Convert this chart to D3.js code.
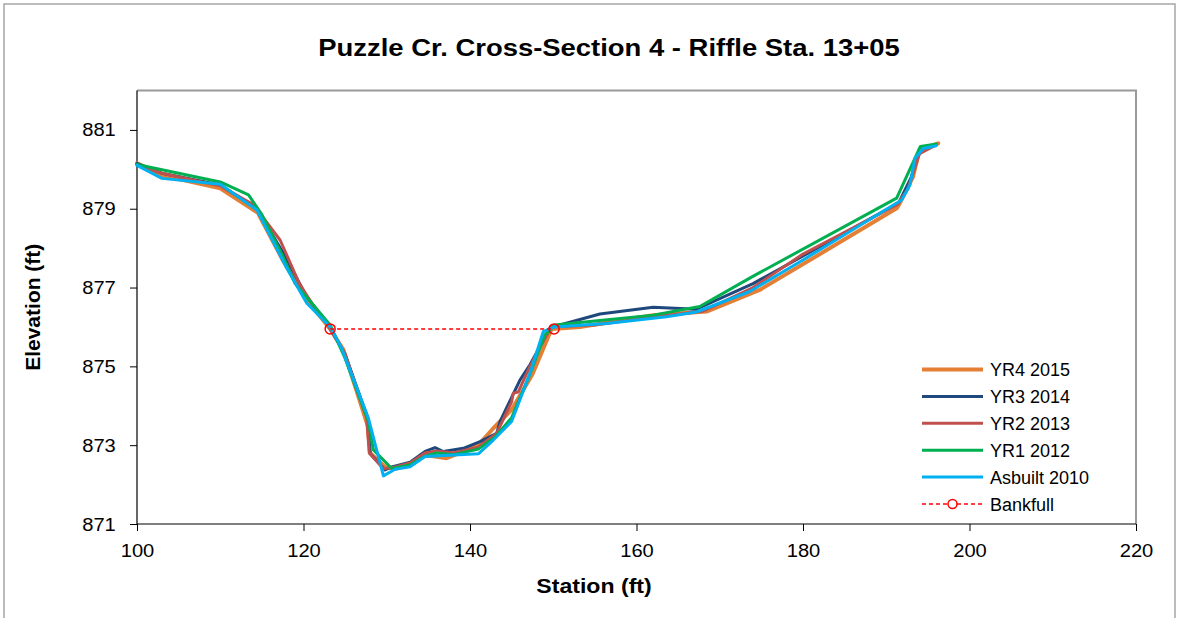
<!DOCTYPE html>
<html>
<head>
<meta charset="utf-8">
<script src="https://cdn.jsdelivr.net/npm/d3@7"></script>
<style>
html,body{margin:0;padding:0;background:#fff;}
svg{display:block;}
text{font-family:"Liberation Sans",Arial,sans-serif;fill:#000;}
</style>
</head>
<body>
<svg id="chart" width="1177" height="618"></svg>
<script>
// ---- data ----
const title = "Puzzle Cr. Cross-Section 4 - Riffle Sta. 13+05";
const xTicks = [100, 120, 140, 160, 180, 200, 220];
const yTicks = [871, 873, 875, 877, 879, 881];
const seriesNames = ["YR4 2015", "YR3 2014", "YR2 2013", "YR1 2012", "Asbuilt 2010", "Bankfull"];

const yr4_2015 = [[100,880.15],[103,879.85],[110,879.52],[114.5,878.9],[117.5,877.7],[120,876.8],[123.2,875.95],[124.8,875.42],[127.7,873.5],[128,872.8],[129.8,872.45],[131,872.4],[132.8,872.5],[134.6,872.75],[137.2,872.67],[141,873.0],[142.8,873.43],[145,873.9],[147.5,874.8],[149.8,875.95],[153.2,876.0],[162,876.3],[168.4,876.39],[174.8,876.94],[191.25,879.01],[191.6,879.13],[193.2,879.8],[194,880.5],[196.25,880.66]];
const yr3_2014 = [[100,880.15],[103,879.9],[110,879.6],[114.4,879.0],[117.5,877.9],[120.3,876.8],[123.1,876.0],[125,875.3],[127.7,873.7],[128,872.79],[129.8,872.37],[130.6,872.45],[132.8,872.57],[134.6,872.84],[135.8,872.94],[136.8,872.84],[139.2,872.92],[141.2,873.09],[143.2,873.3],[143.6,873.6],[146,874.65],[147.2,875.04],[149.7,876.0],[150.8,876.05],[155.6,876.33],[162,876.5],[167.2,876.45],[174,877.1],[180,877.8],[191.5,879.15],[193,879.8],[193.8,880.35],[194.6,880.55],[196,880.62]];
const yr2_2013 = [[100,880.12],[103,879.9],[110,879.58],[114,879.1],[117.2,878.2],[119.5,877.1],[121,876.6],[123.1,876.0],[125,875.3],[127.6,873.7],[127.9,872.8],[129.6,872.4],[131,872.45],[132.8,872.55],[134.6,872.8],[136,872.85],[138,872.8],[141,872.95],[143.2,873.3],[145,874.1],[145.2,874.32],[145.8,874.35],[147.2,875.0],[149.7,876.0],[155,876.05],[162,876.25],[168,876.4],[174,877.0],[180,877.85],[191.3,879.1],[192.6,879.5],[194,880.4],[196,880.62]];
const yr1_2012 = [[100,880.12],[110,879.68],[113.4,879.35],[115,878.85],[117.5,877.8],[119,877.1],[121,876.6],[123.2,876.05],[125,875.2],[127.8,873.6],[128.4,872.88],[130.6,872.41],[132.8,872.5],[134.6,872.72],[136,872.8],[138,872.76],[141,872.9],[143,873.2],[145,873.7],[147,874.7],[149,875.8],[150.2,876.05],[155,876.15],[162,876.3],[167.6,876.52],[173.6,877.24],[191.25,879.27],[194.1,880.58],[196.05,880.64]];
const asbuilt_2010 = [[100,880.1],[103,879.77],[110,879.62],[114.4,878.97],[118,877.49],[120.4,876.6],[123.2,876.0],[124.5,875.5],[127.8,873.68],[129.6,872.22],[131,872.39],[132.8,872.45],[134.6,872.71],[136.4,872.73],[141,872.78],[142.8,873.13],[145,873.6],[147.2,874.82],[148.8,875.88],[150.1,876.0],[156.4,876.09],[163.6,876.26],[167.2,876.38],[173.6,876.9],[180,877.7],[191.85,879.22],[192.85,879.6],[193.45,880.28],[194.45,880.53],[196,880.6]];
const bankfull = [[123.2,875.95],[150.1,875.95]];

// ---- chart ----
const svg = d3.select("#chart");
const L = 137, R = 1136, T = 90.5, B = 524;
const x = d3.scaleLinear().domain([100, 220]).range([L, R]);
const y = d3.scaleLinear().domain([871, 882]).range([B, T]);

// outer chart border
svg.append("rect").attr("x", 4).attr("y", 4).attr("width", 1171).attr("height", 640)
  .attr("fill", "none").attr("stroke", "#a6a6a6").attr("stroke-width", 1.5);

// plot border (top/right gray)
svg.append("path").attr("d", `M${L},${T}H${R}V${B}`)
  .attr("fill", "none").attr("stroke", "#9a9a9a").attr("stroke-width", 2);

// title
svg.append("text").attr("transform", "translate(609,56) scale(1.12,1)").attr("text-anchor", "middle")
  .attr("font-weight", "bold").attr("font-size", 24.5).text(title);

// axes
const xAxis = d3.axisBottom(x).tickValues(xTicks).tickSize(7).tickPadding(13).tickFormat(d3.format("d"));
const yAxis = d3.axisLeft(y).tickValues(yTicks).tickSize(7).tickPadding(14).tickFormat(d3.format("d"));
const gx = svg.append("g").attr("transform", `translate(0,${B})`).call(xAxis);
const gy = svg.append("g").attr("transform", `translate(${L},0)`).call(yAxis);
[gx, gy].forEach(g => {
  g.select(".domain").attr("stroke", "#000").attr("stroke-width", 1.2);
  g.selectAll(".tick line").attr("stroke", "#000");
  g.selectAll(".tick text").attr("font-size", 19).attr("font-family", "Liberation Sans, Arial, sans-serif").attr("fill", "#000");
});
gx.selectAll(".tick text").attr("transform", "scale(1.06,1)");
gy.selectAll(".tick text").attr("x", -20).attr("transform", "scale(1.06,1)");
gy.select(".domain").attr("d", `M0,${B}V${T}`);
gx.select(".domain").attr("d", `M${L},0H${R}`);

// axis titles
svg.append("text").attr("transform", "translate(594,593) scale(1.1,1)").attr("text-anchor", "middle")
  .attr("font-weight", "bold").attr("font-size", 21).text("Station (ft)");
svg.append("text").attr("transform", `translate(40,${(T + B) / 2}) rotate(-90)`).attr("text-anchor", "middle")
  .attr("font-weight", "bold").attr("font-size", 21).text("Elevation (ft)");

// lines
const line = d3.line().x(d => x(d[0])).y(d => y(d[1]));
const series = [
  {name: seriesNames[0], data: yr4_2015, color: "#E47F35", width: 4},
  {name: seriesNames[1], data: yr3_2014, color: "#1F497D", width: 3},
  {name: seriesNames[2], data: yr2_2013, color: "#C0504D", width: 3},
  {name: seriesNames[3], data: yr1_2012, color: "#00B050", width: 3},
  {name: seriesNames[4], data: asbuilt_2010, color: "#00B0F0", width: 3}
];
series.forEach(s => {
  svg.append("path").datum(s.data).attr("d", line).attr("fill", "none")
    .attr("stroke", s.color).attr("stroke-width", s.width)
    .attr("stroke-linejoin", "round").attr("stroke-linecap", "round");
});
svg.append("path").datum(bankfull).attr("d", line).attr("fill", "none")
  .attr("stroke", "#FF0000").attr("stroke-width", 1.5).attr("stroke-dasharray", "4,3");
svg.selectAll("circle.bf").data(bankfull).join("circle").attr("class", "bf")
  .attr("cx", d => x(d[0])).attr("cy", d => y(d[1])).attr("r", 5)
  .attr("fill", "none").attr("stroke", "#FF0000").attr("stroke-width", 1.5);

// legend
const legY0 = 369.5, legDy = 26.9, lx1 = 922, lx2 = 983, tx = 990;
const leg = svg.append("g");
series.forEach((s, i) => {
  const yy = legY0 + i * legDy;
  leg.append("line").attr("x1", lx1).attr("x2", lx2).attr("y1", yy).attr("y2", yy)
    .attr("stroke", s.color).attr("stroke-width", s.width);
  leg.append("text").attr("x", tx).attr("y", yy + 6.5).attr("font-size", 18).text(s.name);
});
{
  const yy = legY0 + 5 * legDy;
  leg.append("line").attr("x1", lx1).attr("x2", lx2).attr("y1", yy).attr("y2", yy)
    .attr("stroke", "#FF0000").attr("stroke-width", 1.5).attr("stroke-dasharray", "4,3");
  leg.append("circle").attr("cx", (lx1 + lx2) / 2).attr("cy", yy).attr("r", 4.5)
    .attr("fill", "#fff").attr("stroke", "#FF0000").attr("stroke-width", 1.5);
  leg.append("text").attr("x", tx).attr("y", yy + 6.5).attr("font-size", 18).text(seriesNames[5]);
}
</script>
</body>
</html>
